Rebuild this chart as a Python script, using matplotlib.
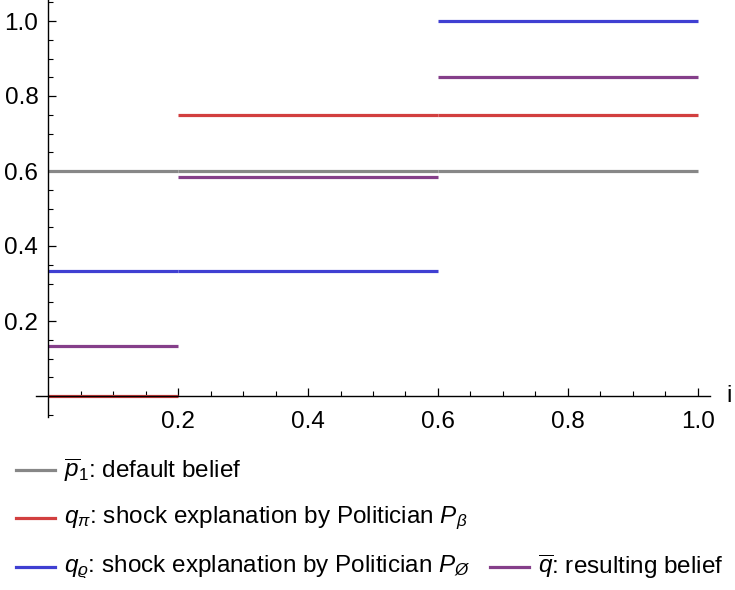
import matplotlib
matplotlib.use("Agg")
import matplotlib.pyplot as plt
from matplotlib.lines import Line2D
import numpy as np

plt.rcParams["font.family"] = ["Liberation Sans", "DejaVu Sans"]
plt.rcParams["mathtext.fontset"] = "custom"
plt.rcParams["mathtext.rm"] = "Liberation Sans"
plt.rcParams["mathtext.it"] = "Liberation Sans:italic"
plt.rcParams["mathtext.bf"] = "Liberation Sans:bold"

# piecewise-constant beliefs over the index i
breaks = [0.0, 0.2, 0.6, 1.0]
default_belief = [0.6, 0.6, 0.6]
q_pi = [0.0, 0.75, 0.75]
q_rho = [1 / 3, 1 / 3, 1.0]
q_bar = [0.1333, 0.5833, 0.85]

x_major = [0.2, 0.4, 0.6, 0.8, 1.0]
y_major = [0.2, 0.4, 0.6, 0.8, 1.0]
tick_labels = ["0.2", "0.4", "0.6", "0.8", "1.0"]

labels = [
    r"$\overline{p}_1$: default belief",
    r"$q_\pi$: shock explanation by Politician $P_\beta$",
    r"$q_\varrho$: shock explanation by Politician $P_\O$",
    r"$\overline{q}$: resulting belief",
]
colors = ["#878787", "#d23f3f", "#3f3fd2", "#853f8a"]

fig = plt.figure(figsize=(7.35, 5.9), dpi=100)
ax = fig.add_axes([36 / 735, 173 / 590, 674 / 735, 417 / 590])

series = [default_belief, q_pi, q_rho, q_bar]
lo = np.array(breaks[:-1])
hi = np.array(breaks[1:])
for vals, c in zip(series, colors):
    ax.hlines(vals, lo, hi, colors=c, linewidth=2.3, capstyle="butt", zorder=2)

for side in ("top", "right"):
    ax.spines[side].set_visible(False)
ax.spines["left"].set_position(("data", 0))
ax.spines["bottom"].set_position(("data", 0))
for side in ("left", "bottom"):
    ax.spines[side].set_linewidth(1.0)
    ax.spines[side].set_zorder(3)

minor = [round(v, 2) for v in np.arange(-0.05, 1.051, 0.05)]
ax.set_xticks(x_major)
ax.set_xticklabels(tick_labels)
ax.set_yticks(y_major)
ax.set_yticklabels(tick_labels)
ax.set_xticks([m for m in minor if 0 < m <= 1.0 and m not in x_major], minor=True)
ax.set_yticks([m for m in minor if m != 0 and m not in y_major], minor=True)
ax.tick_params(which="major", direction="in", length=6, width=0.9,
               labelsize=17.5, pad=7)
ax.tick_params(axis="x", which="major", pad=10.5)
ax.tick_params(which="minor", direction="in", length=3.5, width=0.8)

ax.set_xlim(-0.0185, 1.0185)
ax.set_ylim(-0.056, 1.056)

ax.annotate("i", xy=(1, 0), xycoords=("axes fraction", "data"),
            xytext=(12, 0), textcoords="offset points",
            ha="left", va="center", fontsize=17.5)

# legend rows drawn beneath the plot
rows = [[0], [1], [2, 3]]
row_y = [470, 518, 567]
starts = {0: 16, 1: 16, 2: 16, 3: 490}
for r, y in zip(rows, row_y):
    for k in r:
        x0 = starts[k]
        yf = 1 - y / 590
        fig.add_artist(Line2D([x0 / 735, (x0 + 39) / 735], [yf, yf],
                              color=colors[k], linewidth=2.3,
                              transform=fig.transFigure))
        fig.text((x0 + 48) / 735, yf, labels[k], ha="left", va="center",
                 fontsize=17.5)

fig.savefig("out.png", dpi=100)
